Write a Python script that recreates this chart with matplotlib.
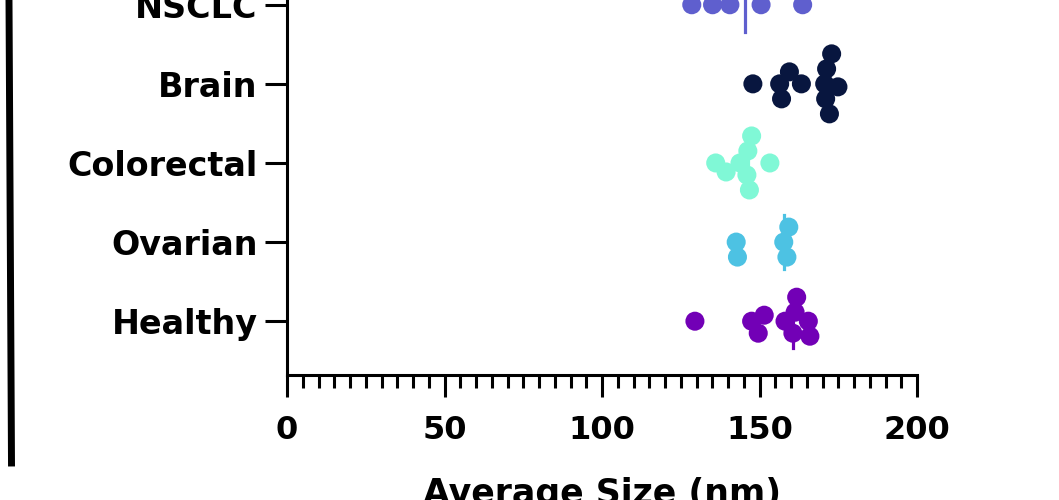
import numpy as np
import matplotlib
matplotlib.use("Agg")
import matplotlib.pyplot as plt
from matplotlib.lines import Line2D
from matplotlib.ticker import MultipleLocator

plt.rcParams['font.family'] = ['DejaVu Sans']

categories = ["Healthy", "Ovarian", "Colorectal", "Brain", "NSCLC"]
healthy = [129.5, 147.5, 151.5, 149.6, 161.8, 161.3, 158.1, 160.6, 166.0, 165.5]
ovarian = [143.0, 142.6, 157.7, 159.3, 158.7]
colorectal = [139.4, 146.3, 146.0, 146.8, 153.3, 136.1, 143.8, 147.5]
brain = [147.9, 156.4, 157.0, 159.5, 163.3, 172.9, 171.3, 171.0, 172.2, 174.9, 170.7]
nsclc = [128.5, 135.1, 140.6, 150.5, 163.7]
medians = [160.6, 157.7, 146.3, 171.5, 145.4]
colors = ["#7200B6", "#4DC2E3", "#80F8D6", "#08163F", "#5F5FCE"]
groups = [healthy, ovarian, colorectal, brain, nsclc]

W, H = 1059, 500
fig = plt.figure(figsize=(W / 100, H / 100), dpi=100)
ax = fig.add_axes([287 / W, 1 - 375 / H, (917 - 287) / W, 375 / H])
ax.set_xlim(0, 200)
ax.set_ylim(-0.68, 4.06)

# simple swarm: push overlapping dots up/down, in pixel space
px_x = (917 - 287) / 200.0
px_y = 375 / 4.74
diam = 19.0


def swarm(vals):
    placed = []
    offs = np.zeros(len(vals))
    order = np.argsort(vals)
    cands = [0]
    for k in range(1, 20):
        cands += [k * 3.0, -k * 3.0]
    for i in order:
        xv = vals[i] * px_x
        for c in cands:
            if all((xv - px) ** 2 + (c - py) ** 2 >= (0.7 * diam) ** 2 for px, py in placed):
                break
        placed.append((xv, c))
        offs[i] = -c / px_y
    return offs


for i, (vals, col) in enumerate(zip(groups, colors)):
    vals = np.array(vals)
    y = i + swarm(vals)
    ax.plot([medians[i], medians[i]], [i - 0.34, i + 0.34], color=col, lw=2.3, zorder=2)
    ax.scatter(vals, y, s=188, color=col, edgecolors="none", zorder=3, clip_on=False)

for s in ["top", "right"]:
    ax.spines[s].set_visible(False)
for s in ["left", "bottom"]:
    ax.spines[s].set_linewidth(2.2)

ax.set_yticks(range(len(categories)))
ax.set_yticklabels(categories)
ax.xaxis.set_major_locator(MultipleLocator(50))
ax.xaxis.set_minor_locator(MultipleLocator(5))
ax.tick_params(axis="x", which="major", length=16, width=2.2, pad=13, labelsize=23)
ax.tick_params(axis="x", which="minor", length=9, width=2.2)
ax.tick_params(axis="y", length=16, width=2.2, pad=5, labelsize=24)
for lab in ax.get_xticklabels() + ax.get_yticklabels():
    lab.set_fontweight("bold")
ax.set_xlabel("Average Size (nm)", fontsize=25, fontweight="bold", labelpad=22)

fig.add_artist(Line2D([9 / W, 11.5 / W], [1.0, 1 - 463 / H], color="black", lw=5,
                      transform=fig.transFigure))

fig.savefig("out.png", dpi=100)
